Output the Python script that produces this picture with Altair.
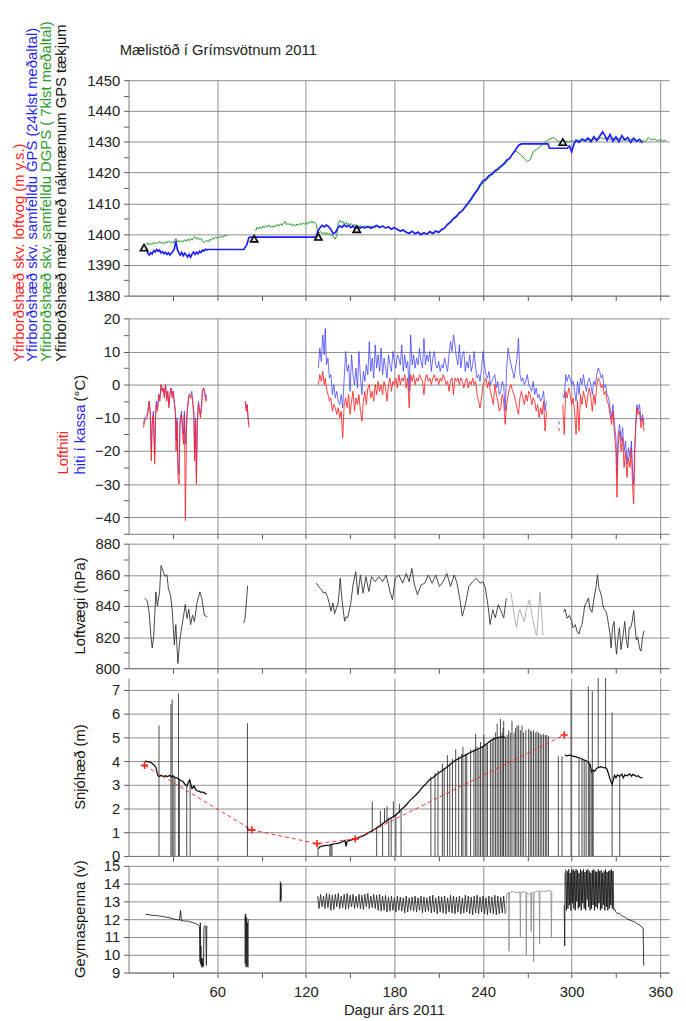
import altair as alt
import pandas as pd

FONT = "Liberation Sans"

# ---------------- tick values ----------------
x_ticks = [30, 60, 90, 120, 150, 180, 210, 240, 270, 300, 330, 360]
y1_ticks = [1380, 1385, 1390, 1395, 1400, 1405, 1410, 1415, 1420, 1425, 1430, 1435, 1440, 1445, 1450]
y2_ticks = [-45, -40, -35, -30, -25, -20, -15, -10, -5, 0, 5, 10, 15, 20]
y3_ticks = [800, 810, 820, 830, 840, 850, 860, 870, 880]
y4_ticks = [0, 0.5, 1, 1.5, 2, 2.5, 3, 3.5, 4, 4.5, 5, 5.5, 6, 6.5, 7, 7.5]
y5_ticks = [9, 9.5, 10, 10.5, 11, 11.5, 12, 12.5, 13, 13.5, 14, 14.5, 15]

# ---------------- panel 1: surface elevation ----------------
gps_day = [
    12, 13, 14, 15, 16, 17, 18, 19, 20, 21,
    22, 23, 24, 25, 26, 27, 28, 29, 30, 31,
    32, 33, 34, 35, 36, 37, 38, 39, 40, 41,
    42, 43, 44, 45, 46, 47, 48, 49, 50, 51,
    52, 53, 54,
    78, 80, 81.5, 83, 127,
    128, 129.5, 131, 132.5, 134, 135.5, 137, 138.5, 140, 141.5,
    143, 144.5, 146, 147.5, 149, 150.5, 152, 153.5, 155, 156.5,
    158, 160, 162, 164, 166, 168, 170, 172, 174, 176,
    178, 180, 182, 184, 186, 188, 190, 192, 194, 196,
    198, 200, 202, 204, 206, 208, 210, 212, 214, 216,
    218, 220, 222, 224, 226, 228, 230, 232, 234, 236,
    238, 240, 242, 244, 246, 248, 250, 252, 254, 256,
    258, 260, 262, 264, 266, 284, 285, 297, 298.5, 300,
    301.5, 303, 305, 307, 309, 311, 313, 315, 317, 319,
    321, 322.5, 324, 326, 328, 330, 332, 334, 336, 338,
    340, 342, 344, 346, 348]
gps_val = [
    1395.5, 1393.8, 1393.2, 1394.0, 1393.5, 1394.6, 1394.2, 1395.0, 1394.4, 1394.8,
    1393.9, 1394.3, 1393.6, 1394.1, 1393.4, 1393.9, 1393.2, 1393.8, 1394.4, 1395.2,
    1397.8, 1395.0, 1394.0, 1393.2, 1394.0, 1393.0, 1393.8, 1393.2, 1392.6, 1393.4,
    1392.5, 1393.5, 1394.2, 1393.4, 1394.1, 1393.6, 1394.4, 1394.0, 1394.8, 1394.5,
    1395.1, 1394.9, 1395.0,
    1395.0, 1396.5, 1398.9, 1399.0, 1399.0,
    1400.8, 1402.0, 1402.8, 1402.3, 1402.9, 1402.4, 1401.5, 1400.2, 1400.5, 1401.8,
    1402.7, 1402.2, 1403.0, 1402.4, 1402.8, 1402.1, 1402.6, 1401.9, 1402.4, 1401.8,
    1402.3, 1402.0, 1402.5, 1401.9, 1402.4, 1402.8, 1402.2, 1402.6, 1402.0, 1402.3,
    1401.6, 1402.1, 1401.5, 1401.0, 1401.3, 1400.6, 1400.2, 1400.9, 1400.1, 1400.6,
    1399.8, 1400.4, 1400.0, 1400.8, 1400.2, 1401.0, 1400.6, 1401.5, 1402.0, 1403.2,
    1404.0, 1405.0, 1405.8, 1407.0, 1407.6, 1409.0, 1410.2, 1411.5, 1413.0, 1414.2,
    1416.0, 1417.3, 1417.8, 1419.0, 1419.5, 1420.5, 1421.2, 1422.0, 1422.8, 1424.0,
    1424.6, 1426.0, 1427.3, 1428.8, 1429.3, 1429.3, 1427.9, 1427.9, 1428.6, 1426.7,
    1429.2, 1430.5, 1429.8, 1430.9, 1430.3, 1431.2, 1430.0, 1431.6, 1430.4, 1431.8,
    1433.2, 1432.0, 1430.5, 1432.4, 1430.2, 1431.6, 1430.0, 1432.0, 1430.6, 1431.4,
    1429.8, 1431.2, 1430.1, 1430.8, 1429.6]

dgps_day = [
    12, 13, 14, 15, 16, 17, 18, 19, 20, 21,
    22, 23, 24, 25, 26, 27, 28, 29, 30, 31,
    32, 33, 34, 35, 36, 37, 38, 39, 40, 41,
    42, 43, 44, 45, 46, 47, 48, 49, 50, 51,
    52, 53, 54, 55, 56, 57, 58, 59, 60, 61,
    62, 63, 64, 65, 66, 67,
    None,
    86, 87, 88, 89, 90, 91, 92, 93, 94, 95,
    96, 97, 98, 99, 100, 101, 102, 103, 104, 105,
    106, 107, 108, 109, 110, 111, 112, 113, 114, 115,
    116, 117, 118, 119, 120, 121, 122, 123, 124, 125,
    126, 127, 128, 129, 130, 131, 132, 133, 134, 135,
    136, 137, 138, 139, 140, 141, 142, 143, 144, 145,
    146, 147, 148, 149, 150, 151, 152, 153, 154, 155,
    156, 157, 158, 160, 162, 164, 166, 168, 170, 172,
    174, 176, 178, 180, 182, 184, 186, 188, 190, 192,
    194, 196, 198, 200, 202, 204, 206, 208, 210, 212,
    214, 216, 218, 220, 222, 224, 226, 228, 230, 232,
    234, 236, 238, 240, 242, 244, 246, 248, 250, 252,
    254, 256, 258, 260, 262, 264, 266, 268, 270, 272,
    274, 276, 278, 280, 282, 284, 286, 288, 290, 292,
    294, 296, 298, 300, 302, 304, 306, 308, 310, 312,
    314, 316, 318, 320, 322, 324, 326, 328, 330, 332,
    334, 336, 338, 340, 342, 344, 346, 348, 350, 352,
    354, 356, 358, 360, 362, 364]
dgps_val = [
    1396.5, 1397.2, 1396.4, 1397.0, 1396.6, 1397.4, 1396.8, 1397.3, 1396.9, 1397.6,
    1397.0, 1397.4, 1396.8, 1397.5, 1397.1, 1397.8, 1397.2, 1397.6, 1397.0, 1397.8,
    1398.6, 1397.4, 1398.0, 1397.3, 1397.9, 1397.4, 1398.2, 1397.6, 1398.4, 1397.8,
    1398.6, 1398.0, 1398.8, 1399.2, 1398.3, 1398.9, 1398.1, 1398.6, 1397.8, 1397.2,
    1397.6, 1398.0, 1397.4, 1398.3, 1398.0, 1398.8, 1398.4, 1399.0, 1398.6, 1399.2,
    1398.8, 1399.4, 1399.0, 1399.6, 1399.3, 1399.8,
    None,
    1401.0, 1402.2, 1401.6, 1402.4, 1401.8, 1402.6, 1402.0, 1402.8, 1402.3, 1403.0,
    1402.2, 1402.7, 1402.1, 1402.9, 1402.4, 1403.2, 1402.6, 1403.4, 1402.8, 1403.6,
    1404.2, 1403.0, 1403.5, 1402.9, 1403.4, 1402.7, 1403.2, 1402.6, 1403.3, 1402.8,
    1403.5, 1403.0, 1403.6, 1403.1, 1403.8, 1403.2, 1404.0, 1403.5, 1404.3, 1403.6,
    1403.9, 1403.2, 1401.0, 1400.4, 1400.8, 1400.1, 1400.6, 1400.0, 1400.5, 1399.8,
    1400.3, 1399.6, 1400.0, 1398.8, 1398.4, 1399.6, 1403.5, 1404.4, 1403.8, 1404.2,
    1403.2, 1403.9, 1403.0, 1403.6, 1402.8, 1403.4, 1402.6, 1403.2, 1402.4, 1403.0,
    1402.3, 1402.8, 1402.1, 1402.7, 1402.0, 1402.6, 1401.9, 1402.5, 1402.0, 1402.7,
    1401.8, 1402.4, 1401.7, 1402.2, 1401.4, 1401.1, 1401.5, 1400.7, 1400.3, 1401.0,
    1400.2, 1400.8, 1400.0, 1400.5, 1399.9, 1400.6, 1400.0, 1400.8, 1400.4, 1401.2,
    1401.8, 1403.0, 1403.6, 1404.8, 1405.4, 1406.6, 1407.4, 1408.6, 1409.8, 1411.0,
    1412.6, 1413.8, 1415.4, 1416.6, 1417.4, 1418.4, 1419.2, 1420.0, 1420.8, 1421.6,
    1422.4, 1423.4, 1424.8, 1426.0, 1427.0, 1426.4, 1425.6, 1424.6, 1423.6, 1424.2,
    1426.8, 1427.4, 1428.2, 1429.0, 1429.8, 1430.6, 1431.0, 1431.4, 1430.4, 1430.0,
    1429.6, 1430.2, 1429.8, 1430.4, 1429.9, 1430.6, 1430.1, 1430.8, 1430.2, 1431.0,
    1430.4, 1431.2, 1430.6, 1431.4, 1430.8, 1431.5, 1430.7, 1431.3, 1430.5, 1431.2,
    1430.4, 1431.0, 1430.3, 1430.9, 1430.2, 1430.6, 1429.9, 1430.4, 1430.0, 1431.4,
    1430.6, 1430.9, 1430.3, 1430.7, 1430.2, 1430.5]

gnss_day = [10.5, 85, 128.5, 154.5, 294]
gnss_val = [1395.6, 1398.5, 1399.1, 1401.6, 1429.9]

# ---------------- panel 2: temperature ----------------
temp_day = [
    10, 11, 12.5, 13.3, 14, 14.7, 15.4, 16, 16.8, 17.7,
    18.3, 18.8, 19.6, 20.4, 21.2, 22, 22.8, 23.5, 24.2, 25,
    25.8, 26.5, 27.3, 28, 28.8, 29.5, 30.3, 31, 31.7, 32.2,
    32.8, 33.5, 34.2, 34.8, 35.8, 36.5, 37.2, 37.8, 38.5, 39.2,
    39.8, 40.5, 41.2, 42, 42.8, 43.5, 44.2, 44.7, 45.4, 45.9,
    46.6, 47.3, 48, 48.7, 49.4, 50, 50.8, 51.6, 52.3, 53,
    None,
    79, 79.7, 80.3, 81, 81.6,
    None,
    128.5, 129.5, 130.5, 131.5, 132.5, 133.2,
    134, 135, 136, 137, 138, 139, 140, 141, 142, 143,
    144, 145, 146, 147, 148, 149, 150, 151, 152, 153,
    154, 155, 156, 157, 158, 159, 160, 161, 162, 163,
    164, 165, 166, 167, 168, 169, 170, 171, 172, 173,
    174, 175, 176, 177, 178, 179, 180, 181, 182, 183,
    184, 185, 186, 187, 188, 189, 190, 191, 192, 193,
    194, 195, 196, 197, 198, 199, 200, 201, 202, 203,
    204, 205, 206, 207, 208, 209, 210, 211, 212, 213,
    214, 215, 216, 217, 218, 219, 220, 221, 222, 223,
    224, 225, 226, 227, 228, 229, 230, 231, 232, 233,
    234, 235, 236, 237, 238, 239, 240, 241, 242, 243,
    244, 245, 246, 247, 248, 249, 250, 251, 252, 253,
    254, 255, 256, 257, 258, 259, 260, 261, 262, 263,
    264, 265, 266, 267, 268, 269, 270, 271, 272, 273,
    274, 275, 276, 277, 278, 279, 280, 281, 282, 283,
    None,
    291, 292,
    None,
    294, 295, 296, 297, 298, 299, 300, 301, 302, 303,
    304, 305, 306, 307, 308, 309, 310, 311, 312, 313,
    314, 315, 316, 317, 318, 319, 320, 321, 322, 323,
    324, 325, 326, 327, 328, 329, 330,
    330.7, 331.5, 332.5, 333.5, 334.5, 335.5, 336.5, 337.5, 338.5, 339.5,
    340.5, 341.2, 342, 342.8, 343.5, 344.2, 345, 346, 347, 348,
    349]
temp_air = [
    -13, -11, -10, -8, -5, -9, -23, -12, -9, -24,
    -10, -6, -8, -3, -5, 0, -2, -1, -4, 0,
    -5, -2, -7, -3, -1, -4, -2, -6, -9, -20,
    -11, -28, -30, -12, -9, -14, -18, -9, -41, -14,
    -8, -5, -3, -4, -3, -6, -9, -23, -11, -30,
    -12, -6, -8, -10, -7, -2, -1, -3, -5, -4,
    None,
    -5, -8, -6, -11, -13,
    None,
    0, 3, 1, 4, 0, 2,
    -1, -3, -5, -4, -8, -6, -7, -9, -7, -10,
    -8, -16, -6, -4, -7, -3, -9, -5, -2, -8,
    -4, -6, -3, -8, -11, -5, -2, -6, -1, 0,
    -4, -2, -5, 0, -3, 1, -2, 0, -3, 1,
    -1, -5, 0, 2, -2, 1, 0, 2, -1, 3,
    0, 2, 1, 3, -1, 2, -7, 3, 1, 3,
    0, 2, 1, 3, 2, 1, -3, 2, 3, 1,
    2, 0, 2, 3, 1, 2, 0, 2, 1, 3,
    2, 0, 1, -2, 1, 2, -3, 2, 1, 2,
    0, 2, 1, -1, 1, 2, -1, 1, 0, 2,
    0, 1, -3, -5, -7, -4, 0, 1, 2, -1,
    1, -2, -4, -6, 0, -3, -5, -8, -7, -3,
    -5, -12, -6, -3, -1, 0, -2, -3, -5, -7,
    -9, -4, -2, -4, -6, -3, -5, -2, -3, -6,
    -4, -5, -8, -6, -10, -7, -9, -5, -14, -8,
    None,
    -13, -14,
    None,
    -6, -15, -2, -4, -1, -3, -6, -4, -8, -15,
    -5, -14, -3, -6, -2, -4, -7, -3, -1, -4,
    -8, -3, -6, 0, 2, 1, -1, 0, -3, -2,
    -5, -6, -9, -12, -8, -15, -20,
    -34, -18, -14, -20, -16, -25, -20, -28, -22, -25,
    -19, -30, -36, -20, -12, -7, -9, -8, -13, -10,
    -14]
temp_box = [
    -12, -10, -9, -7, -5, -8, -20, -11, -8, -21,
    -9, -5, -7, -3, -4, 0, -2, -1, -3, 0,
    -4, -2, -6, -3, -1, -3, -2, -5, -8, -17,
    -10, -25, -27, -11, -8, -12, -15, -8, -18, -12,
    -7, -4, -3, -3, -2, -5, -8, -20, -10, -27,
    -11, -5, -7, -9, -6, -2, -1, -2, -4, -3,
    None,
    -5, -7, -6, -10, -12,
    None,
    5, 11, 7, 15, 9, 17,
    6, 8, 2, 3, -3, 0, -4, -2, -5, -6,
    -3, -7, 2, 10, 4, 6, -2, 9, 3, 0,
    5, -1, 10, 2, -3, 4, 1, 6, 3, 13,
    4, 8, 2, 12, 5, 9, 4, 11, 3, 8,
    5, 2, 9, 6, 4, 10, 7, 5, 9, 8,
    6, 12, 4, 9, 5, 7, -2, 15, 6, 9,
    5, 8, 6, 11, 7, 5, 14, 6, 9, 7,
    10, 4, 8, 10, 6, 5, 7, 4, 6, 5,
    8, 6, 4, 9, 13, 10, 15, 12, 8, 6,
    12, 5, 9, 10, 4, 7, 5, 9, 4, 6,
    10, 5, 2, 3, 1, 5, 10, 6, 3, 2,
    4, 0, 1, 2, 3, -1, 1, -3, -2, 1,
    0, -8, 5, 11, 8, 6, 4, 2, 5, 8,
    14, 3, 1, 2, 0, 1, 3, 0, -1, -2,
    1, -3, -1, -4, -3, -5, -4, -2, -8, -5,
    None,
    -11, -12,
    None,
    -3, -4, 3, 1, 3, 2, 0, 1, -2, -5,
    1, -3, 2, 0, 3, 0, -2, 1, 2, 0,
    -3, 1, 0, 3, 5, 4, 2, 3, -1, 0,
    -3, -4, -7, -10, -6, -12, -16,
    -27, -15, -12, -17, -13, -20, -17, -24, -19, -22,
    -17, -26, -30, -18, -11, -6, -8, -6, -11, -9,
    -12]

# ---------------- panel 3: air pressure ----------------
pres_day = [
    11, 12.7, 14, 15, 16, 17, 18.5, 19.5, 21, 22,
    23.4, 24.7, 26, 27, 28.4, 29.6, 31, 32, 33.4, 34.6,
    35.9, 37, 38.4, 39.6, 40.8, 42, 43.3, 44.6, 46.3, 48.3,
    49.6, 51.3, 53.3,
    None,
    78, 78.8, 79.6, 80.6,
    None,
    127.2, 128.5, 129.7, 131, 132, 133.3, 134.6, 135.8, 137, 138.4,
    139.5, 140.8, 142, 143.3, 144.6, 146.3, 147.3, 148.3, 150.3, 152,
    153.8, 155.3, 157, 158.8, 160.7, 162.7, 164.5, 167, 169.5, 172,
    174.4, 177, 178.7, 180.6, 183, 185.6, 188, 190, 191.8, 193.6,
    195.6, 198, 200.5, 203, 205.5, 208, 210.5, 213, 215.5, 218,
    220.5, 222.4, 224.2, 226, 228, 230.4, 233, 235.4, 238, 240,
    241.6, 243.3, 244.8, 246.6, 248.3, 250.3, 252.3, 254, 255.8,
    None,
    294.5, 295.5, 297, 298.5, 300, 301, 302.5, 303.5, 305, 306,
    307, 308, 308.8, 310, 311.3, 312.5, 313.8, 315.5, 316.5, 317.5,
    318.5, 319.4, 320.3, 321, 322, 323, 324, 325, 326, 326.7,
    327.7, 328.7, 329.5, 330.4, 331.4, 332.4, 333.4, 334.4, 335.2, 336,
    337, 338, 339, 340, 341, 342, 343, 343.8, 344.7, 345.6,
    346.3, 347, 348, 349]
pres_val = [
    845, 843, 835, 822, 813, 820, 849, 840, 849, 866,
    862, 859, 860, 851, 847, 837, 815, 828, 803, 817,
    826, 832, 841, 832, 838, 828, 834, 830, 842, 849,
    845, 834, 833,
    None,
    829, 832, 840, 853,
    None,
    854.6, 852.5, 851.4, 850, 848.2, 849, 846.1, 842, 836.6, 841.9,
    835, 838.7, 842, 857.8, 842.9, 830.2, 833, 832.3, 840.8, 853.5,
    862, 847.2, 859.9, 848.2, 858.8, 849.3, 858.8, 855.6, 858.8, 855.6,
    859.9, 849.3, 844, 857.8, 859.9, 854.6, 860.9, 855.6, 864.1, 853.5,
    847.2, 853.5, 854.6, 859.9, 854.6, 859.9, 852.5, 855.6, 860.9, 852.5,
    859.9, 854.6, 845, 833.4, 840.8, 852.5, 855.6, 857.8, 854.6, 855.6,
    851.4, 840.8, 828.1, 837.6, 832.3, 840.8, 836.6, 832.3, 845,
    None,
    836, 838, 832, 834, 830, 826, 828, 824, 822, 826,
    828, 834, 840, 842, 845, 838, 836, 847, 852, 860,
    851, 849, 846, 841, 838, 837, 834, 828, 822, 813,
    826, 830, 818, 809, 820, 826, 812, 818, 824, 830,
    818, 813, 826, 826, 830, 837, 826, 818, 820, 815,
    812, 811, 820, 824]
pres_faint_day = [258, 259, 260.5, 261.5, 262.7, 264, 265, 266.5, 267.7, 269.5,
                  271.4, 272.5, 274, 275.3, 276.3, 277.5, 278.6, 279.5, 280.6]
pres_faint_val = [849, 848, 838, 832, 826, 835, 838, 833, 830, 838,
                  844, 838, 830, 824, 821, 835, 849, 838, 821]

# ---------------- panel 4: snow height ----------------
snow_day = [
    11, 13, 15, 17, 18.6, 19.5, 20, 21, 22, 23.5,
    25, 26.4, 28, 29, 30, 31.5, 33, 34.5, 35.5, 36.5,
    37.5, 38.5, 39.5, 40.5, 41.3, 42, 43, 44.3, 45.5, 46.6,
    48, 49, 50, 51.5, 53,
    None,
    80, 80.6, 81.3,
    None,
    128.2, 129.5, 131.6, 134, 136, 138, 140.5, 143, 145, 146.5,
    147.3, 148, 149.5, 151, 152.5, 154, 156, 158.4, 160.5, 163,
    165, 167, 169.5, 171.8, 174, 176.3, 178.5, 180.8, 183, 185.5,
    188, 190, 192.5, 195, 196.8, 199, 201.5, 203.5, 206, 208,
    210, 212.5, 215, 217.5, 219.5, 221.5, 224, 226, 228, 230,
    232, 235, 237, 239.5, 242, 244, 246, 248, 250.7, 253,
    255,
    None,
    295.5, 297, 298.5, 300, 302, 304.5, 306, 308, 309.5, 311,
    312.5, 313.5, 314.5, 315.7, 317, 318.5, 320, 321.5, 323.6, 324.8,
    325.8, 326.5, 327.4, 328.2, 329, 330, 331, 332.5, 334, 335,
    336, 337.5, 339.3, 340.5, 341.5, 342.7, 344, 345, 346.5, 348]
snow_val = [
    4.0, 3.98, 3.95, 3.85, 3.72, 3.45, 3.37, 3.36, 3.4, 3.35,
    3.38, 3.35, 3.4, 3.33, 3.38, 3.3, 3.28, 3.22, 3.18, 3.15,
    3.08, 3.0, 2.95, 3.1, 3.2, 3.05, 2.85, 2.95, 2.8, 2.74,
    2.72, 2.68, 2.7, 2.65, 2.6,
    None,
    1.25, 1.15, 1.07,
    None,
    0.3, 0.38, 0.42, 0.45, 0.46, 0.5, 0.52, 0.55, 0.6, 0.65,
    0.4, 0.62, 0.65, 0.68, 0.7, 0.72, 0.78, 0.83, 0.9, 1.0,
    1.07, 1.14, 1.25, 1.35, 1.45, 1.56, 1.63, 1.72, 1.85, 2.0,
    2.15, 2.3, 2.45, 2.6, 2.72, 2.9, 3.05, 3.2, 3.3, 3.4,
    3.5, 3.6, 3.72, 3.85, 3.95, 4.04, 4.12, 4.2, 4.25, 4.32,
    4.38, 4.46, 4.52, 4.6, 4.7, 4.8, 4.9, 4.95, 5.0, 5.02,
    5.0,
    None,
    4.25, 4.22, 4.25, 4.22, 4.2, 4.15, 4.12, 4.05, 4.02, 3.97,
    3.85, 3.55, 3.62, 3.58, 3.7, 3.74, 3.76, 3.72, 3.7, 3.5,
    3.28, 3.15, 3.03, 3.2, 3.4, 3.3, 3.42, 3.36, 3.45, 3.3,
    3.42, 3.38, 3.46, 3.36, 3.44, 3.4, 3.35, 3.38, 3.3, 3.3]

spike_day = [
    20.6, 28.7, 29.5, 30.2, 31.4, 33.8, 34.4, 39.4, 41.7, 80.5,
    128.3, 136.3, 137.0, 137.8, 165, 168, 170.5, 172, 173.3, 175,
    176.2, 177.8, 179.3, 181, 183.4, 184.5,
    204.7, 207.5, 212.5, 213.7, 215.9, 217.5, 219.3, 221.5, 223.5, 225.5,
    226.4, 229, 231.6, 233.8, 235, 236, 237.2, 238.3, 239.5, 240.6,
    243, 246.2, 247.3, 248.5, 249.6, 250.7, 251.8, 252.9, 254, 255.2,
    256.3, 257.4, 259.6, 261, 263, 264.1, 265.3, 266.4, 267.5, 270.9,
    272, 274.2, 276.5, 277.6, 279.8, 281, 283.2, 284.3,
    291, 293.5, 299.6, 305, 307, 308.5, 309.8, 311.3, 312.2, 313.2,
    314, 314.6, 318, 323, 327.4, 332.6,
    209.5, 228, 242, 245, 253.6, 258.5, 262, 269, 273, 275.4, 278.7, 282.2]
spike_lo = [
    0, 0, 0, 0, 0, 0, 0, 0, 0, 0,
    0, 0, 0, 0, 1.0, 0, 1.2, 0, 1.4, 1.4,
    0, 0, 1.6, 0, 1.8, 0,
    0, 0, 0, 0, 0, 0, 0, 0, 0, 0,
    0, 0, 0, 0, 0, 0, 0, 0, 0, 0,
    0, 0, 0, 0, 0, 0, 0, 0, 0, 0,
    0, 0, 0, 0, 0, 0, 0, 0, 0, 0,
    0, 0, 0, 0, 0, 0, 0, 0,
    0, 0, 0, 0, 0, 0, 0, 0, 0, 0,
    0, 0, 3.7, 3.7, 0, 0,
    0, 0, 0, 0, 0, 0, 0, 0, 0, 0, 0, 0]
spike_hi = [
    5.5, 6.4, 6.6, 3.4, 3.35, 6.85, 3.2, 3.0, 3.2, 5.6,
    0.3, 0.46, 0.48, 0.5, 2.3, 1.2, 1.9, 1.4, 2.0, 2.1,
    1.6, 1.65, 2.3, 1.75, 2.2, 1.9,
    3.35, 3.5, 3.9, 3.7, 4.25, 3.9, 4.1, 4.5, 4.2, 4.3,
    4.6, 4.3, 4.5, 4.5, 5.15, 4.6, 4.5, 4.8, 4.6, 5.1,
    4.7, 4.9, 5.0, 5.2, 5.57, 5.0, 5.78, 5.2, 5.7, 5.0,
    5.1, 5.3, 5.7, 5.2, 5.5, 5.5, 5.3, 5.5, 5.2, 5.36,
    5.3, 5.3, 5.25, 5.2, 5.1, 5.15, 5.1, 5.05,
    4.2, 4.2, 7.0, 4.1, 4.05, 4.0, 3.95, 7.15, 3.9, 3.6,
    6.95, 3.6, 7.5, 7.5, 6.05, 3.4,
    3.6, 4.3, 4.75, 4.85, 5.4, 5.2, 5.4, 5.3, 5.25, 5.2, 5.15, 5.1]

manual_day = [10.8, 83.5, 127.6, 153.5, 295]
manual_val = [3.82, 1.1, 0.52, 0.72, 5.1]

# ---------------- panel 5: battery voltage ----------------
volt_day = [
    11.4, 14, 16, 19, 21, 23, 26.4, 28, 30, 31.4,
    33, 34.5, 35.2, 35.8, 37, 38.5, 40, 41.3, 43, 45,
    46.5, 47.5, 48,
    48.4, 48.6, 48.8, 49.0, 49.2, 49.4, 49.6, 49.8, 50.0, 50.2,
    50.4, 50.6, 50.8, 51.0, 51.3, 51.8, 52.3, 52.7, 53.0, 53.4,
    None,
    78.8, 79.0, 79.3, 79.6, 79.9, 80.2, 80.5, 80.8, 81.0,
    None,
    102.6, 102.8, 103.0, 103.2, 103.4,
    None,
    295.0, 295.3, 295.6,
    None,
    329, 330, 331, 332, 333, 334, 335, 336.5, 338, 339.5,
    341, 342.7, 344, 345.5, 346.5, 347.5, 348.4, 348.8]
volt_val = [
    12.28, 12.25, 12.22, 12.2, 12.18, 12.15, 12.1, 12.08, 12.02, 12.0,
    11.97, 11.95, 12.5, 11.9, 11.93, 11.88, 11.9, 11.86, 11.82, 11.77,
    11.7, 11.66, 11.6,
    9.6, 11.8, 9.5, 10.5, 9.4, 9.8, 9.3, 9.6, 9.4, 9.8,
    9.3, 9.6, 9.4, 11.5, 11.6, 11.65, 11.6, 9.4, 11.6, 11.55,
    None,
    12.2, 9.5, 12.3, 9.3, 12.1, 9.4, 11.8, 9.3, 12.0,
    None,
    13.0, 14.1, 13.0, 14.0, 13.1,
    None,
    12.8, 10.5, 14.6,
    None,
    12.6, 12.4, 12.3, 12.35, 12.25, 12.2, 12.15, 12.1, 12.0, 11.95,
    11.9, 11.85, 11.75, 11.7, 11.65, 11.55, 11.5, 9.4]

band1_day = [
    128, 130, 132, 134, 136, 138, 140, 142,
    144, 146, 148, 150, 152, 154, 156, 158,
    160, 162, 164, 166, 168, 170, 172, 174,
    176, 178, 180, 182, 184, 186, 188, 190,
    192, 194, 196, 198, 200, 202, 204, 206,
    208, 210, 212, 214, 216, 218, 220, 222,
    224, 226, 228, 230, 232, 234, 236, 238,
    240, 242, 244, 246, 248, 250, 252, 254]
band1_hi = [
    13.3, 13.4, 13.3, 13.45, 13.4, 13.35, 13.4, 13.45,
    13.3, 13.4, 13.45, 13.35, 13.4, 13.3, 13.4, 13.35,
    13.4, 13.45, 13.3, 13.4, 13.35, 13.4, 13.3, 13.35,
    13.25, 13.3, 13.2, 13.3, 13.25, 13.2, 13.3, 13.2,
    13.25, 13.3, 13.2, 13.3, 13.25, 13.2, 13.3, 13.35,
    13.2, 13.3, 13.25, 13.3, 13.2, 13.35, 13.3, 13.25,
    13.3, 13.2, 13.35, 13.3, 13.25, 13.3, 13.35, 13.25,
    13.3, 13.2, 13.3, 13.25, 13.35, 13.3, 13.25, 13.3]
band1_lo = [
    12.6, 12.7, 12.6, 12.65, 12.5, 12.55, 12.7, 12.6,
    12.65, 12.55, 12.6, 12.7, 12.6, 12.65, 12.6, 12.55,
    12.7, 12.6, 12.65, 12.6, 12.5, 12.45, 12.5, 12.4,
    12.45, 12.5, 12.4, 12.5, 12.45, 12.35, 12.4, 12.5,
    12.45, 12.4, 12.5, 12.35, 12.4, 12.45, 12.35, 12.4,
    12.3, 12.4, 12.35, 12.3, 12.4, 12.35, 12.3, 12.4,
    12.3, 12.35, 12.4, 12.3, 12.25, 12.35, 12.3, 12.4,
    12.3, 12.25, 12.35, 12.3, 12.25, 12.3, 12.35, 12.3]

band2_day = [
    296, 297, 298, 299, 300, 301, 302, 303, 304, 305,
    306, 307, 308, 309, 310, 311, 312, 313, 314, 315,
    316, 317, 318, 319, 320, 321, 322, 323, 324, 325,
    326, 327, 328]
band2_hi = [
    14.8, 14.7, 14.8, 14.6, 14.75, 14.8, 14.7, 14.8, 14.75, 14.6,
    14.8, 14.7, 14.8, 14.65, 14.75, 14.8, 14.7, 14.6, 14.75, 14.8,
    14.7, 14.65, 14.8, 14.7, 14.75, 14.6, 14.7, 14.8, 14.65, 14.7,
    14.75, 14.8, 14.7]
band2_lo = [
    12.5, 12.6, 12.8, 12.5, 12.9, 12.6, 12.5, 13.0, 12.6, 12.7,
    12.5, 12.9, 12.6, 12.5, 13.1, 12.7, 12.5, 12.6, 12.8, 12.5,
    12.7, 12.6, 12.9, 12.5, 12.6, 12.8, 12.5, 12.7, 12.5, 12.6,
    12.8, 12.6, 12.5]

volt_faint_day = [
    255.5, 256, 257.3, 257.6, 257.9, 260, 262, 264, 265, 265.3,
    265.6, 268, 269, 269.3, 269.6, 271, 272.3, 272.6, 272.9, 274,
    274.3, 274.6, 276, 278, 278.3, 278.6, 280, 282, 284, 286,
    286.3, 286.6]
volt_faint_val = [
    12.3, 13.4, 13.5, 10.2, 13.5, 13.55, 13.5, 13.5, 13.55, 11.0,
    13.5, 13.55, 13.5, 10.0, 13.5, 13.4, 13.45, 11.3, 13.5, 13.5,
    9.6, 13.5, 13.55, 13.6, 10.6, 13.55, 13.6, 13.55, 13.6, 13.6,
    11.0, 13.5]


# ---------------- helpers ----------------
def seg_table(days, vals):
    rows, seg = [], 0
    for d, v in zip(days, vals):
        if d is None or v is None:
            seg += 1
            continue
        rows.append({"day": d, "v": v, "seg": seg})
    return pd.DataFrame(rows)


def zigzag_table(days, hi, lo, half):
    rows = []
    for d, h, l in zip(days, hi, lo):
        rows.append({"day": d, "v": h, "seg": 0})
        rows.append({"day": d + half, "v": l, "seg": 0})
    return pd.DataFrame(rows)


def x_enc(show_labels=False):
    return alt.X(
        "day:Q",
        scale=alt.Scale(domain=[0, 366], nice=False, zero=False),
        axis=alt.Axis(
            values=x_ticks, title=None, labels=show_labels, format="d",
            labelExpr="datum.value % 60 === 0 ? datum.label : ''",
            grid=True, labelPadding=7,
            gridOpacity={"condition": {"test": "datum.value % 60 === 0", "value": 1}, "value": 0},
        ),
    )


def y_enc(field, dom, vals, mod):
    test = f"abs(datum.value % {mod}) < 0.001"
    return alt.Y(
        f"{field}:Q",
        scale=alt.Scale(domain=dom, nice=False, zero=False),
        axis=alt.Axis(
            values=vals, title=None, format="d",
            labelExpr=f"{test} ? datum.label : ''",
            grid=True,
            gridOpacity={"condition": {"test": test, "value": 1}, "value": 0},
        ),
    )


def line(df, color, width, ydef, xlab=False, opacity=1.0, dash=None):
    kw = dict(color=color, strokeWidth=width, opacity=opacity, clip=True)
    if dash:
        kw["strokeDash"] = dash
    return alt.Chart(df).mark_line(**kw).encode(
        x=x_enc(xlab), y=y_enc(*ydef), detail="seg:N", order="day:Q")


def label(text, x, y, color, angle=0, align="left", size=15):
    return alt.Chart(pd.DataFrame({"t": [text]})).mark_text(
        angle=angle, align=align, baseline="middle", font=FONT,
        fontSize=size, color=color,
    ).encode(text="t:N", x=alt.value(x), y=alt.value(y))


W = 547
RED, BLUE, GREEN = "#ff1f1f", "#1f1fff", "#2e9a2e"

# ---------------- panel 1 ----------------
y1 = ("v", [1380, 1450], y1_ticks, 10)
p1 = alt.layer(
    line(seg_table(dgps_day, dgps_val), GREEN, 1.0, y1),
    line(seg_table(gps_day, gps_val), BLUE, 1.7, y1),
    alt.Chart(pd.DataFrame({"day": gnss_day, "v": gnss_val})).mark_point(
        shape="triangle-up", filled=True, fill="#dddddd", stroke="black",
        strokeWidth=1.6, size=55, opacity=1,
    ).encode(x=x_enc(), y=y_enc(*y1)),
    label("Mælistöð í Grímsvötnum 2011", -9, -31, "#222"),
    label("Yfirborðshæð skv. loftvog (m y.s.)", -111, 285, RED, angle=270),
    label("Yfirborðshæð skv. samfelldu GPS (24klst meðaltal)", -98, 285, BLUE, angle=270),
    label("Yfirborðshæð skv. samfelldu DGPS ( 7klst  meðaltal)", -83, 285, GREEN, angle=270),
    label("Yfirborðshæð mæld með nákmæmum GPS tækjum", -68, 285, "#111", angle=270),
).properties(width=W, height=218)

# ---------------- panel 2 ----------------
y2 = ("v", [-45, 20], y2_ticks, 10)
p2 = alt.layer(
    line(seg_table(temp_day, temp_box), "#3a3aff", 1.0, y2, opacity=0.75),
    line(seg_table(temp_day, temp_air), RED, 1.0, y2, opacity=0.85),
    label("Lofthiti", -66, 158, RED, angle=270),
    label("hiti í kassa", -49, 158, BLUE, angle=270),
    label("(°C)", -49, 84, "#111", angle=270),
).properties(width=W, height=218)

# ---------------- panel 3 ----------------
y3 = ("v", [800, 880], y3_ticks, 20)
p3 = alt.layer(
    line(seg_table(pres_faint_day, pres_faint_val), "#a8a8a8", 0.9, y3),
    line(seg_table(pres_day, pres_val), "#333333", 0.9, y3),
    label("Loftvægi (hPa)", -49, 63, "#111", angle=270, align="center"),
).properties(width=W, height=126)

# ---------------- panel 4 ----------------
y4 = ("lo", [0, 7.5], y4_ticks, 1)
spikes = pd.DataFrame({"day": spike_day, "lo": spike_lo, "hi": spike_hi})
y4v = ("v", [0, 7.5], y4_ticks, 1)
manual = pd.DataFrame({"day": manual_day, "v": manual_val})
p4 = alt.layer(
    alt.Chart(spikes).mark_rule(color="#2a2a2a", strokeWidth=1, opacity=0.85, clip=True).encode(
        x=x_enc(), y=y_enc(*y4), y2="hi:Q"),
    line(seg_table(snow_day, snow_val), "#111", 1.3, y4v),
    alt.Chart(manual).mark_line(color=RED, strokeWidth=1, strokeDash=[4, 3], opacity=0.9).encode(
        x=x_enc(), y=y_enc(*y4v)),
    alt.Chart(manual).mark_point(
        shape="M-1,0L1,0M0,-1L0,1", filled=False, color=RED, strokeWidth=1.6, size=55, opacity=1,
    ).encode(x=x_enc(), y=y_enc(*y4v)),
    label("Snjóhæð (m)", -49, 90, "#111", angle=270, align="center"),
).properties(width=W, height=180)

# ---------------- panel 5 ----------------
y5 = ("v", [9, 15], y5_ticks, 1)
p5 = alt.layer(
    line(zigzag_table(band1_day, band1_hi, band1_lo, 1), "#222", 0.85, y5, xlab=True),
    line(seg_table(volt_faint_day, volt_faint_val), "#8a8a8a", 0.8, y5, xlab=True),
    line(zigzag_table(band2_day, band2_hi, band2_lo, 0.5), "#111", 0.85, y5, xlab=True),
    line(seg_table(volt_day, volt_val), "#222", 0.9, y5, xlab=True),
    label("Geymaspenna (v)", -49, 54, "#111", angle=270, align="center"),
    label("Dagur árs 2011", 269, 146, "#222", align="center"),
).properties(width=W, height=108)

inner = alt.vconcat(p2, p3, p4, p5, spacing=10, bounds="flush")
chart = alt.vconcat(p1, inner, spacing=23, bounds="flush").configure_view(
    stroke=None
).configure_axis(
    labelFont=FONT, labelFontSize=15, labelColor="#222",
    gridColor="#8c8c8c", gridWidth=1, domainColor="#777", tickColor="#555",
    tickSize=5, labelPadding=4,
).properties(
    padding={"left": 4, "top": 2, "right": 5, "bottom": 2}, background="white"
)

chart.save("out.html", embed_options={"renderer": "svg", "actions": False})
